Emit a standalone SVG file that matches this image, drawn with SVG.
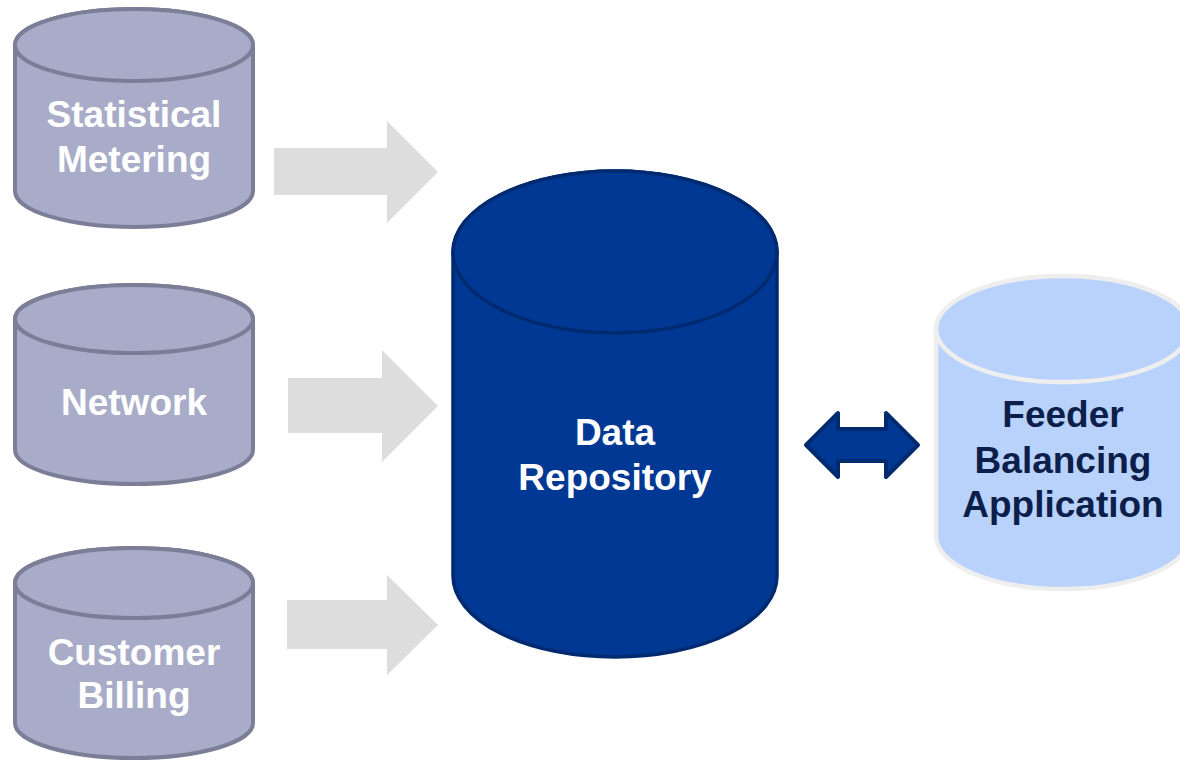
<svg xmlns="http://www.w3.org/2000/svg" width="1180" height="760" viewBox="0 0 1180 760">
<style>
.src{fill:#a9acc8;stroke:#7b7e96;stroke-width:4}
.repo{fill:#003893;stroke:#002a70;stroke-width:3.5}
.app{fill:#b8d2fc;stroke:#eeeeee;stroke-width:4.5}
.t{font-family:"Liberation Sans",Arial,sans-serif;font-weight:bold;font-size:37px;text-anchor:middle}
.w{fill:#ffffff}
.d{fill:#0c1e4a}
.flow{fill:#dddddd}
.dbl{fill:#003893;stroke:#002a70;stroke-width:4;stroke-linejoin:round}
</style>
<rect width="1180" height="760" fill="#ffffff"/>
<g id="connectors">
<polygon class="flow" points="274,148 387,148 387,121 438,172 387,223 387,195 274,195"/>
<polygon class="flow" points="288,378 382,378 382,350 438,406 382,462 382,433 288,433"/>
<polygon class="flow" points="287,600 387,600 387,575 438,625 387,675 387,649 287,649"/>
<polygon class="dbl" points="806,445 838,413 838,429 886,429 886,413 918,445 886,477 886,461 838,461 838,477"/>
</g>
<g id="statistical-metering">
<path class="src" d="M15,45 V191 A119,36 0 0 0 253,191 V45 A119,36 0 0 0 15,45 Z"/>
<ellipse class="src" cx="134" cy="45" rx="119" ry="36"/>
<text class="t w" x="134" y="127">Statistical</text>
<text class="t w" x="134" y="172">Metering</text>
</g>
<g id="network">
<path class="src" d="M15,319 V450 A119,34 0 0 0 253,450 V319 A119,34 0 0 0 15,319 Z"/>
<ellipse class="src" cx="134" cy="319" rx="119" ry="34"/>
<text class="t w" x="134" y="415">Network</text>
</g>
<g id="customer-billing">
<path class="src" d="M15,583 V723 A119,35 0 0 0 253,723 V583 A119,35 0 0 0 15,583 Z"/>
<ellipse class="src" cx="134" cy="583" rx="119" ry="35"/>
<text class="t w" x="134" y="665">Customer</text>
<text class="t w" x="134" y="708">Billing</text>
</g>
<g id="data-repository">
<path class="repo" d="M453,252 V576 A162,81 0 0 0 777,576 V252 A162,81 0 0 0 453,252 Z"/>
<ellipse class="repo" cx="615" cy="252" rx="162" ry="81"/>
<text class="t w" x="615" y="445">Data</text>
<text class="t w" x="615" y="490">Repository</text>
</g>
<g id="feeder-balancing-application">
<path class="app" d="M936,329 V536 A127,53 0 0 0 1190,536 V329 A127,53 0 0 0 936,329 Z"/>
<ellipse class="app" cx="1063" cy="329" rx="127" ry="53"/>
<text class="t d" x="1063" y="427">Feeder</text>
<text class="t d" x="1063" y="473">Balancing</text>
<text class="t d" x="1063" y="517">Application</text>
</g>
</svg>
